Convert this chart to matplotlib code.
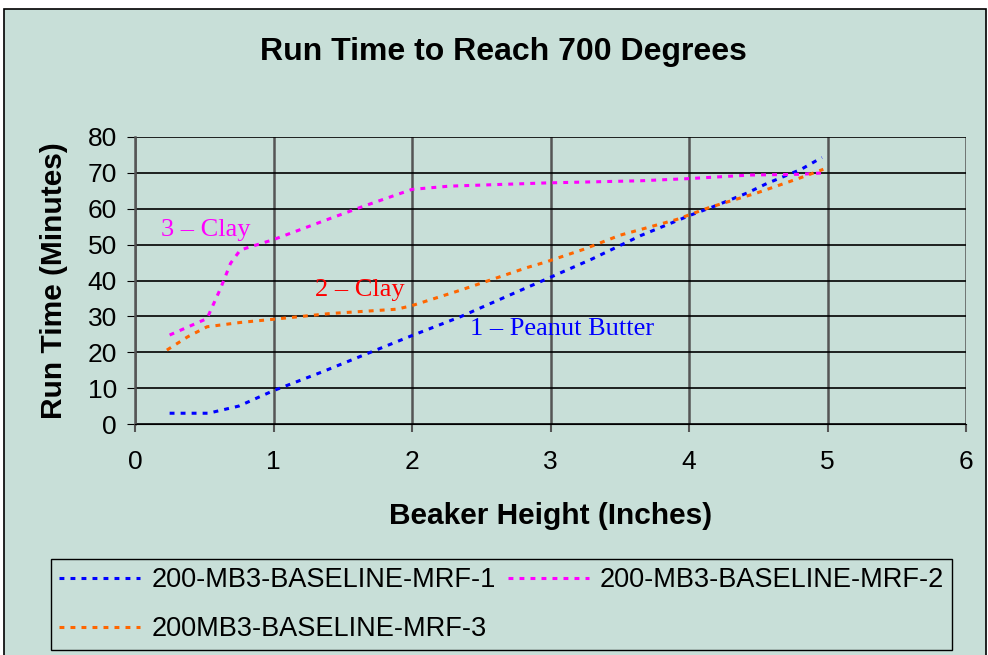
import matplotlib
matplotlib.use("Agg")
import matplotlib.pyplot as plt
from matplotlib.patches import Rectangle

# beaker height (in) vs run time (min)
mrf1_x = [0.25, 0.53, 0.75, 0.93, 1.0, 1.35, 1.72, 2.01, 2.35, 2.65, 2.97, 3.3, 3.65, 4.01, 4.17, 4.42, 4.56, 4.81, 4.96]
mrf1_y = [3.0, 3.0, 5.0, 8.1, 9.3, 14.5, 20.3, 24.8, 29.9, 35.0, 40.4, 46.0, 52.5, 58.2, 60.5, 64.4, 67.0, 71.0, 74.3]

mrf2_x = [0.25, 0.52, 0.62, 0.69, 0.76, 1.0, 1.41, 1.65, 2.0, 2.27, 2.97, 3.65, 4.0, 4.44, 4.8, 4.97]
mrf2_y = [24.8, 29.4, 38.0, 44.8, 48.5, 51.4, 57.3, 60.7, 65.4, 66.3, 67.2, 67.8, 68.4, 69.4, 69.6, 70.0]

mrf3_x = [0.23, 0.38, 0.52, 0.76, 1.0, 1.41, 1.89, 2.0, 2.35, 2.83, 2.97, 3.24, 3.5, 3.91, 4.15, 4.49, 4.81, 4.97]
mrf3_y = [20.6, 24.3, 27.1, 28.3, 29.2, 30.8, 32.0, 33.0, 37.3, 43.6, 45.2, 48.7, 52.6, 57.0, 60.4, 64.4, 68.7, 71.0]

labels = ["200-MB3-BASELINE-MRF-1", "200-MB3-BASELINE-MRF-2", "200MB3-BASELINE-MRF-3"]
colors = ["#0000FF", "#FF00FF", "#FF6600"]

bg = "#C8DFD8"
plt.rcParams["font.family"] = ["Liberation Sans", "DejaVu Sans"]

fig = plt.figure(figsize=(9.88, 6.55), dpi=100, facecolor="white")
fig.patches.append(Rectangle((4 / 988, -0.01), 982 / 988, 1 - 9 / 655 + 0.01,
                             transform=fig.transFigure, facecolor=bg,
                             edgecolor="black", linewidth=1.2, zorder=-1))

ax = fig.add_axes([135 / 988, 1 - 424 / 655, 831 / 988, 287 / 655])
ax.set_facecolor(bg)

ls = (0, (1.6, 2.0))
l1, = ax.plot(mrf1_x, mrf1_y, color=colors[0], lw=2.2, linestyle=ls)
l2, = ax.plot(mrf2_x, mrf2_y, color=colors[1], lw=2.2, linestyle=ls)
l3, = ax.plot(mrf3_x, mrf3_y, color=colors[2], lw=2.2, linestyle=ls)

ax.set_xlim(0, 6)
ax.set_ylim(0, 80)
ax.set_xticks(range(0, 7))
ax.set_yticks(range(0, 81, 10))
ax.tick_params(labelsize=19, length=6, colors="black")
ax.tick_params(axis="y", pad=7, color="black")
ax.tick_params(axis="x", pad=13, color="#555555", width=1.5)
ax.yaxis.grid(True, color="black", lw=1.2)
ax.xaxis.grid(True, color="#555555", lw=1.8)
ax.set_axisbelow(True)
for s in ["top", "right"]:
    ax.spines[s].set_visible(False)
ax.spines["left"].set_color("#555555")
ax.spines["left"].set_linewidth(1.8)
ax.spines["bottom"].set_color("black")

ax.set_xlabel("Beaker Height (Inches)", fontsize=21.5, fontweight="bold", labelpad=20)
ax.set_ylabel("Run Time (Minutes)", fontsize=21.5, fontweight="bold", labelpad=14)
fig.text(503 / 988, 1 - 52 / 655, "Run Time to Reach 700 Degrees",
         fontsize=23, fontweight="bold", ha="center", va="center")

serif = ["Liberation Serif", "DejaVu Serif"]
ax.text(0.19, 52.3, "3 \u2013 Clay", color="#FF00FF", fontsize=19, family=serif)
ax.text(1.3, 35.8, "2 \u2013 Clay", color="#FF0000", fontsize=19, family=serif)
ax.text(2.42, 24.8, "1 \u2013 Peanut Butter", color="#0000FF", fontsize=19, family=serif)

# column-major fill, so order handles to read row by row
leg = fig.legend([l1, l3, l2], [labels[0], labels[2], labels[1]], ncol=2,
                 loc="upper left", bbox_to_anchor=(51 / 988, 1 - 559 / 655),
                 fontsize=19.5, frameon=True, fancybox=False, handlelength=3.0,
                 columnspacing=0.45, handletextpad=0.4, borderpad=0.3,
                 labelspacing=0.85, borderaxespad=0)
leg.get_frame().set_facecolor(bg)
leg.get_frame().set_edgecolor("black")
leg.get_frame().set_alpha(1)

fig.savefig("out.png", dpi=100, facecolor="white")
